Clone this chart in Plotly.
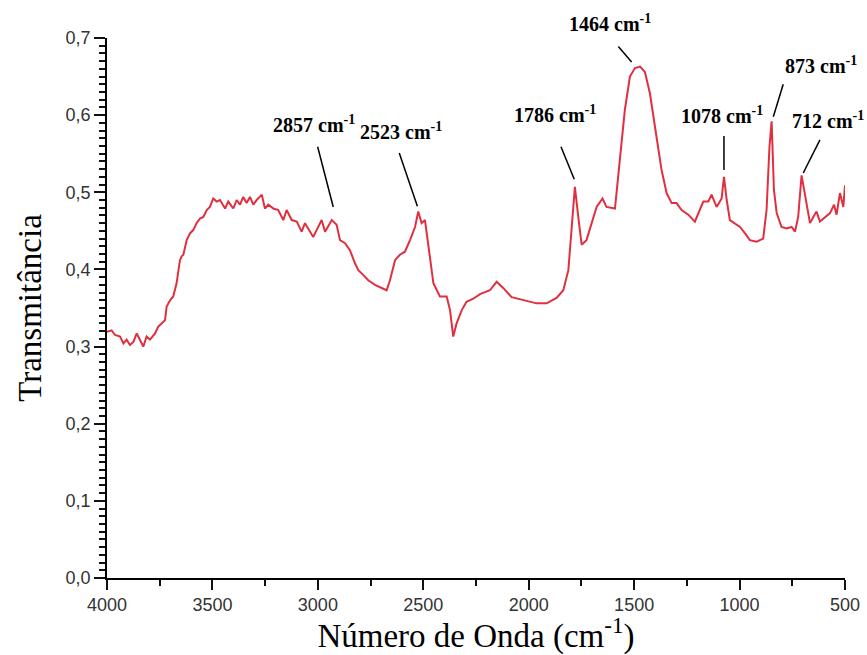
import plotly.graph_objects as go

# Wavenumber (cm-1) and transmittance
wavenumber = [4000, 3978, 3962, 3938, 3922, 3907, 3891, 3875, 3859, 3843, 3828, 3812, 3796, 3772, 3757,
              3741, 3725, 3717, 3701, 3686, 3670, 3654, 3646, 3638, 3622, 3606, 3591, 3575, 3559, 3543,
              3527, 3512, 3496, 3480, 3464, 3440, 3425, 3401, 3385, 3369, 3354, 3338, 3322, 3306, 3290,
              3266, 3251, 3235, 3211, 3188, 3164, 3148, 3124, 3100, 3077, 3061, 3045, 3022, 3006, 2982,
              2966, 2934, 2911, 2895, 2871, 2848, 2824, 2808, 2785, 2761, 2729, 2697, 2674, 2658, 2634,
              2611, 2587, 2563, 2539, 2524, 2508, 2492, 2468, 2452, 2421, 2389, 2373, 2358, 2342, 2318,
              2295, 2263, 2231, 2184, 2152, 2121, 2081, 2026, 1963, 1915, 1868, 1836, 1812, 1796, 1781,
              1765, 1749, 1726, 1702, 1678, 1650, 1631, 1591, 1567, 1544, 1520, 1496, 1472, 1449, 1425,
              1409, 1394, 1370, 1346, 1322, 1299, 1275, 1243, 1212, 1188, 1172, 1148, 1133, 1109, 1085,
              1074, 1061, 1046, 1022, 998, 975, 951, 919, 888, 872, 858, 848, 837, 824, 801,
              777, 753, 737, 722, 706, 695, 682, 666, 650, 635, 619, 595, 571, 552, 540,
              524, 508, 500]
transmittance = [0.319, 0.321, 0.315, 0.313, 0.304, 0.309, 0.302, 0.306, 0.317, 0.309, 0.300, 0.313, 0.309, 0.317, 0.326,
                 0.330, 0.334, 0.352, 0.360, 0.365, 0.382, 0.412, 0.417, 0.419, 0.438, 0.447, 0.451, 0.460, 0.466, 0.468,
                 0.477, 0.481, 0.492, 0.488, 0.490, 0.479, 0.488, 0.479, 0.490, 0.484, 0.494, 0.486, 0.494, 0.484, 0.490,
                 0.497, 0.479, 0.484, 0.479, 0.477, 0.464, 0.477, 0.464, 0.462, 0.449, 0.460, 0.453, 0.442, 0.451, 0.464,
                 0.449, 0.464, 0.458, 0.438, 0.434, 0.425, 0.408, 0.399, 0.393, 0.386, 0.380, 0.376, 0.373, 0.386, 0.412,
                 0.419, 0.423, 0.438, 0.455, 0.475, 0.460, 0.464, 0.417, 0.382, 0.365, 0.365, 0.347, 0.313, 0.330, 0.347,
                 0.358, 0.362, 0.368, 0.373, 0.384, 0.376, 0.364, 0.360, 0.356, 0.356, 0.363, 0.373, 0.399, 0.455, 0.507,
                 0.468, 0.432, 0.438, 0.460, 0.481, 0.492, 0.481, 0.479, 0.542, 0.607, 0.650, 0.661, 0.663, 0.656, 0.628,
                 0.602, 0.572, 0.529, 0.499, 0.486, 0.486, 0.477, 0.471, 0.462, 0.477, 0.488, 0.488, 0.497, 0.481, 0.492,
                 0.520, 0.490, 0.464, 0.460, 0.455, 0.447, 0.438, 0.436, 0.440, 0.477, 0.560, 0.592, 0.503, 0.473, 0.455,
                 0.453, 0.455, 0.449, 0.468, 0.522, 0.505, 0.481, 0.460, 0.468, 0.475, 0.462, 0.468, 0.473, 0.484, 0.471,
                 0.499, 0.481, 0.509]

# Peak labels: text, label position, leader line start/end
peak_labels = ["2857 cm<sup>-1</sup>", "2523 cm<sup>-1</sup>", "1786 cm<sup>-1</sup>", "1464 cm<sup>-1</sup>",
               "1078 cm<sup>-1</sup>", "873 cm<sup>-1</sup>", "712 cm<sup>-1</sup>"]
label_x = [3018, 2606, 1875, 1614, 1083, 616, 580]
label_y = [0.588, 0.579, 0.601, 0.719, 0.600, 0.665, 0.594]
line_x0 = [3001, 2614, 1847, 1575, 1074, 793, 619]
line_y0 = [0.559, 0.551, 0.559, 0.689, 0.573, 0.640, 0.568]
line_x1 = [2927, 2528, 1784, 1512, 1074, 840, 698]
line_y1 = [0.481, 0.482, 0.517, 0.669, 0.529, 0.598, 0.525]

X_RANGE = [4000, 500]
Y_MAX = 0.7

fig = go.Figure()
fig.add_trace(go.Scatter(x=wavenumber, y=transmittance, mode="lines",
                         line=dict(color="#e0303f", width=2), showlegend=False,
                         hoverinfo="x+y"))

for i in range(len(peak_labels)):
    fig.add_shape(type="line", xref="x", yref="y",
                  x0=line_x0[i], y0=line_y0[i], x1=line_x1[i], y1=line_y1[i],
                  line=dict(color="black", width=1.5))
    fig.add_annotation(x=label_x[i], y=label_y[i] / Y_MAX, xref="x", yref="paper",
                       xanchor="center", yanchor="middle",
                       text="<b>" + peak_labels[i] + "</b>", showarrow=False,
                       font=dict(family="Liberation Serif", size=20, color="black"))

tick_font = dict(family="Liberation Sans", size=18, color="#333333")
fig.update_layout(
    template="none",
    width=867, height=655,
    margin=dict(l=107, r=22, t=38, b=77),
    paper_bgcolor="white", plot_bgcolor="white",
    separators=",.",
    xaxis=dict(range=X_RANGE, dtick=500,
               showgrid=False, zeroline=False, showline=True, linecolor="black", linewidth=1.5,
               ticks="outside", ticklen=10, tickwidth=2, tickcolor="#111111",
               minor=dict(dtick=250, ticks="outside", ticklen=6, tickwidth=2,
                          tickcolor="#111111", showgrid=False),
               tickfont=tick_font,
               title=dict(text="Número de Onda (cm<sup>-1</sup>)",
                          font=dict(family="Liberation Serif", size=33, color="black"), standoff=4)),
    yaxis=dict(range=[0, Y_MAX], dtick=0.1, tickformat=".1f",
               showgrid=False, zeroline=False, showline=True, linecolor="black", linewidth=1.5,
               ticks="outside", ticklen=11, tickwidth=2, tickcolor="#111111",
               minor=dict(dtick=0.01, ticks="outside", ticklen=6, tickwidth=1.5,
                          tickcolor="#111111", showgrid=False),
               tickfont=tick_font,
               title=dict(text="Transmitância",
                          font=dict(family="Liberation Serif", size=33, color="black"), standoff=14)),
)

fig.write_html("out.html")
